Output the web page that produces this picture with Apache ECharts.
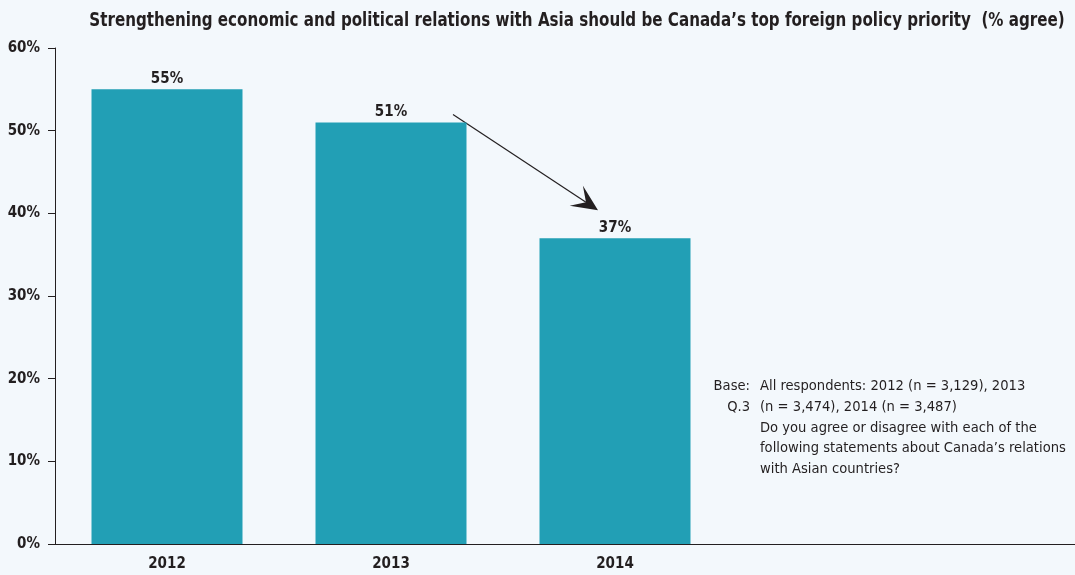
<!DOCTYPE html>
<html>
<head>
<meta charset="utf-8">
<script src="https://cdn.jsdelivr.net/npm/echarts@6/dist/echarts.min.js"></script>
<style>
  html, body { margin: 0; padding: 0; background: #f3f8fc; }
  #chart { width: 1075px; height: 575px; }
</style>
</head>
<body>
<div id="chart"></div>
<script>
// Survey years and share agreeing (%)
const years = ['2012', '2013', '2014'];
const agreePct = [55, 51, 37];
const yTicks = { min: 0, max: 60, interval: 10 };

const titleText = 'Strengthening economic and political relations with Asia should be Canada\u2019s top foreign policy priority  (% agree)';
const noteLabels = ['Base:', 'Q.3'];
const noteLines = [
  'All respondents: 2012 (n = 3,129), 2013',
  '(n = 3,474), 2014 (n = 3,487)',
  'Do you agree or disagree with each of the',
  'following statements about Canada\u2019s relations',
  'with Asian countries?'
];

const INK = '#231f20';
const BAR = '#229fb5';
const NARROW = '"Liberation Sans Narrow", "DejaVu Sans Condensed", "Arial Narrow", sans-serif';

const chart = echarts.init(document.getElementById('chart'), null, { renderer: 'canvas' });

chart.setOption({
  backgroundColor: '#f3f8fc',
  animation: false,
  grid: { left: 55, right: 348, top: 48, bottom: 31, containLabel: false },
  xAxis: {
    type: 'category',
    data: years,
    axisLine: { show: true, lineStyle: { color: INK, width: 1 } },
    axisTick: { show: false },
    axisLabel: { margin: 13, fontFamily: NARROW, fontWeight: 'bold', fontSize: 15, color: INK }
  },
  yAxis: {
    type: 'value',
    min: yTicks.min,
    max: yTicks.max,
    interval: yTicks.interval,
    axisLine: { show: true, lineStyle: { color: INK, width: 1 } },
    axisTick: { show: true, inside: false, length: 7, lineStyle: { color: INK } },
    splitLine: { show: false },
    axisLabel: { margin: 15, formatter: '{value}%', fontFamily: NARROW, fontWeight: 'bold', fontSize: 15, color: INK }
  },
  series: [{
    type: 'bar',
    data: agreePct,
    barWidth: 151,
    itemStyle: { color: BAR },
    label: {
      show: true,
      position: 'top',
      distance: 3,
      formatter: '{c}%',
      fontFamily: NARROW,
      fontWeight: 'bold',
      fontSize: 15,
      color: INK
    }
  }]
});

// Extra decorations placed through the chart's own coordinate system
function decorate() {
  const y0 = Math.round(chart.convertToPixel({ yAxisIndex: 0 }, 0)) + 0.5;
  const gridRight = chart.convertToPixel({ xAxisIndex: 0 }, years[2]) + 112;

  // Trend arrow from the 2013 bar down to the 2014 label
  const p13 = chart.convertToPixel({ seriesIndex: 0 }, [1, agreePct[1]]);
  const p14 = chart.convertToPixel({ seriesIndex: 0 }, [2, agreePct[2]]);
  const start = [p13[0] + 62, p13[1] - 8];
  const tip = [p14[0] - 17, p14[1] - 28];
  const dx = tip[0] - start[0], dy = tip[1] - start[1];
  const len = Math.hypot(dx, dy);
  const ux = dx / len, uy = dy / len, nx = -uy, ny = ux;
  const L = 24, W = 12;
  const back = [tip[0] - L * ux, tip[1] - L * uy];
  const notch = [tip[0] - 0.6 * L * ux, tip[1] - 0.6 * L * uy];
  const head = [
    tip,
    [back[0] + W * nx - 2 * ux, back[1] + W * ny - 2 * uy],
    notch,
    [back[0] - W * nx - 2 * ux, back[1] - W * ny - 2 * uy]
  ];

  const noteX = 760, noteTop = 376, lh = 20.7;

  chart.setOption({
    graphic: [
      {
        // condensed heading, squeezed horizontally around its centre
        type: 'text',
        x: 577,
        y: 21,
        scaleX: 0.885,
        style: {
          text: titleText,
          fontFamily: NARROW,
          fontWeight: 'bold',
          fontSize: 19,
          fill: INK,
          align: 'center',
          verticalAlign: 'middle'
        },
        silent: true
      },
      {
        type: 'line',
        shape: { x1: gridRight, y1: y0, x2: 1075, y2: y0 },
        style: { stroke: INK, lineWidth: 1 },
        silent: true
      },
      {
        type: 'line',
        shape: { x1: start[0], y1: start[1], x2: notch[0], y2: notch[1] },
        style: { stroke: INK, lineWidth: 1.2 },
        silent: true
      },
      {
        type: 'polygon',
        shape: { points: head },
        style: { fill: INK },
        silent: true
      },
      {
        type: 'text',
        x: noteX,
        y: noteTop,
        style: {
          text: noteLines.join('\n'),
          fontFamily: NARROW,
          fontSize: 14.6,
          lineHeight: lh,
          fill: INK,
          align: 'left',
          verticalAlign: 'top'
        },
        silent: true
      },
      {
        type: 'text',
        x: noteX - 10,
        y: noteTop,
        style: {
          text: noteLabels.join('\n'),
          fontFamily: NARROW,
          fontSize: 14.6,
          lineHeight: lh,
          fill: INK,
          align: 'right',
          verticalAlign: 'top'
        },
        silent: true
      }
    ]
  });
}
decorate();
</script>
</body>
</html>
